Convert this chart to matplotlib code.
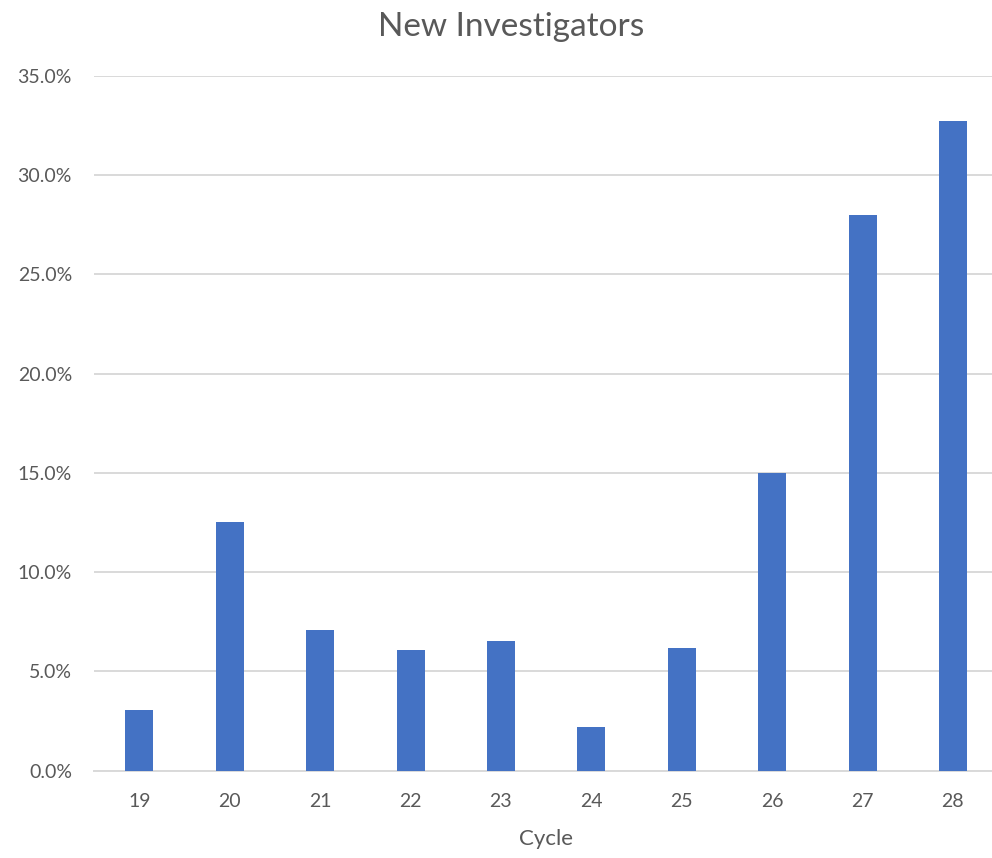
import matplotlib.pyplot as plt
from matplotlib.ticker import PercentFormatter

plt.rcParams['font.family'] = ['Lato', 'DejaVu Sans']

cycles = ['19', '20', '21', '22', '23', '24', '25', '26', '27', '28']
new_inv = [3.05, 12.55, 7.09, 6.07, 6.51, 2.2, 6.16, 15.0, 28.01, 32.71]

text_col = '#595959'

fig = plt.figure(figsize=(9.92, 8.58), dpi=100)
ax = fig.add_axes([0.0949, 0.1018, 0.9113, 0.8096])

ax.bar(range(len(cycles)), new_inv, width=0.31, color='#4472C4', zorder=3)

ax.set_xlim(-0.5, len(cycles) - 0.5)
ax.set_ylim(0, 35)
ax.set_yticks(range(0, 36, 5))
ax.yaxis.set_major_formatter(PercentFormatter(decimals=1))
ax.set_xticks(range(len(cycles)))
ax.set_xticklabels(cycles)

ax.grid(axis='y', color='#d9d9d9', linewidth=1.4, zorder=0)
for s in ['top', 'right', 'left']:
    ax.spines[s].set_visible(False)
ax.spines['bottom'].set_color('#d9d9d9')
ax.spines['bottom'].set_linewidth(1.4)

ax.tick_params(axis='both', length=0, labelsize=14, colors=text_col)
ax.tick_params(axis='y', pad=16)
ax.tick_params(axis='x', pad=16)

ax.set_xlabel('Cycle', fontsize=16, color=text_col, labelpad=14)
# chart area is cut off on the right, so centre the title by hand
ax.set_title('New Investigators', fontsize=24, color=text_col, pad=29, x=0.4617)

fig.savefig('out.png', dpi=100)
